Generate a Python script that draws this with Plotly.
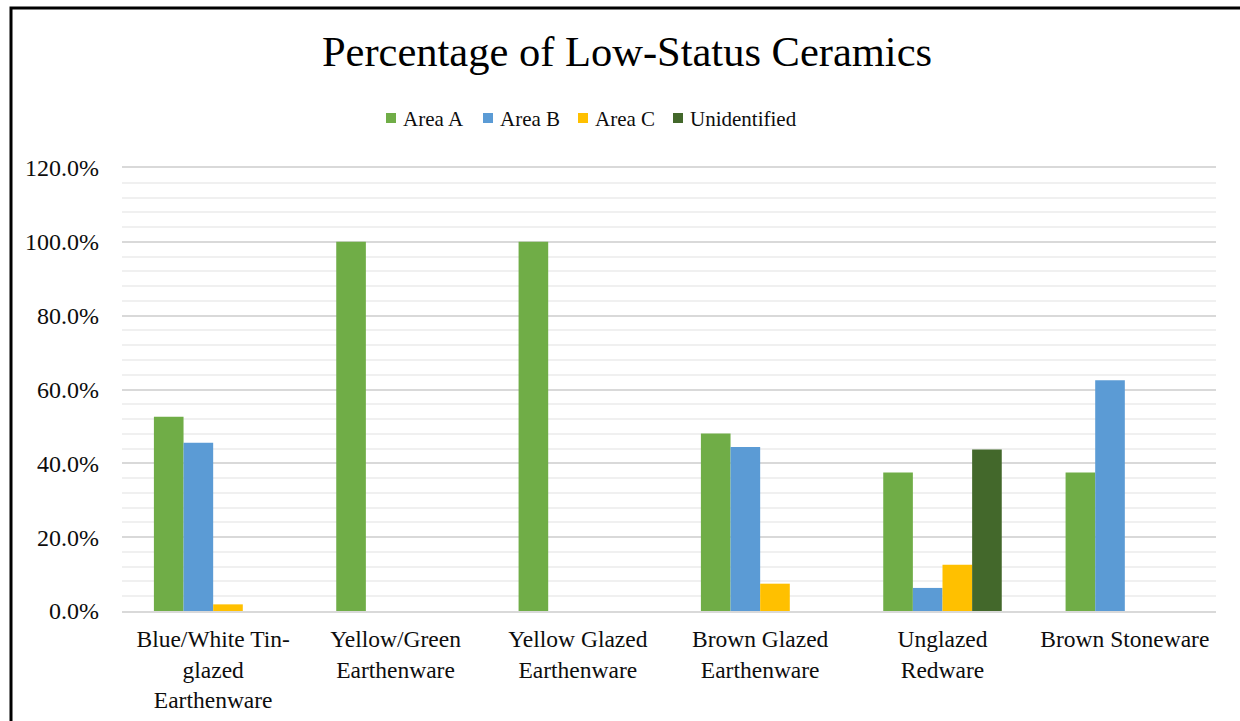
import plotly.graph_objects as go

categories = [
    "Blue/White Tin-<br>glazed<br>Earthenware",
    "Yellow/Green<br>Earthenware",
    "Yellow Glazed<br>Earthenware",
    "Brown Glazed<br>Earthenware",
    "Unglazed<br>Redware",
    "Brown Stoneware",
]
area_a = [0.526, 1.0, 1.0, 0.481, 0.375, 0.375]
area_b = [0.456, 0.0, 0.0, 0.444, 0.0625, 0.625]
area_c = [0.018, 0.0, 0.0, 0.074, 0.125, 0.0]
unidentified = [0.0, 0.0, 0.0, 0.0, 0.4375, 0.0]

series_names = ["Area A", "Area B", "Area C", "Unidentified"]
series_values = [area_a, area_b, area_c, unidentified]
series_colors = ["#70AD47", "#5B9BD5", "#FFC000", "#43682B"]

font_family = "Liberation Serif, Times New Roman, serif"
W, H = 1240, 721
L, R, T, B = 122, 24, 168, 110
PW, PH = W - L - R, H - T - B


def px_x(px):
    return (px - L) / PW


def px_y(py):
    return (H - B - py) / PH


fig = go.Figure()
for name, vals, color in zip(series_names, series_values, series_colors):
    fig.add_trace(go.Bar(
        x=categories, y=vals, name=name,
        marker=dict(color=color, line=dict(width=0)),
        showlegend=False,
    ))

fig.update_layout(
    width=W, height=H,
    paper_bgcolor="white", plot_bgcolor="white",
    barmode="group", bargap=0.35, bargroupgap=0,
    margin=dict(l=L, r=R, t=T, b=B, autoexpand=False),
    font=dict(family=font_family, size=23, color="#0d0d0d"),
    title=dict(
        text="Percentage of Low-Status Ceramics",
        x=627 / W, xref="container", xanchor="center",
        y=1 - 51 / H, yref="container", yanchor="middle",
        font=dict(family=font_family, size=42.5, color="#000000"),
    ),
)

fig.update_yaxes(
    range=[0, 1.2], tickvals=[0, 0.2, 0.4, 0.6, 0.8, 1.0, 1.2],
    tickformat=".1%", automargin=False,
    showgrid=True, gridcolor="#d9d9d9", gridwidth=1.5,
    minor=dict(dtick=0.04, showgrid=True, gridcolor="#f0f0f0", gridwidth=1.5),
    zeroline=False, showline=False, ticks="",
    ticklabelstandoff=22,
    tickfont=dict(family=font_family, size=24, color="#0d0d0d"),
)
fig.update_xaxes(
    showline=True, mirror=True, linecolor="#d9d9d9", linewidth=1.5,
    ticks="", showgrid=False, ticklabelstandoff=6, automargin=False,
    tickfont=dict(family=font_family, size=23.5, color="#0d0d0d"),
)

# Legend drawn as swatches and labels above the plot
legend_swatch_x = [386, 483, 578, 673]
legend_y = 118
for name, color, sx in zip(series_names, series_colors, legend_swatch_x):
    fig.add_shape(
        type="rect", xref="paper", yref="paper",
        x0=px_x(sx), x1=px_x(sx + 10),
        y0=px_y(legend_y + 5), y1=px_y(legend_y - 5),
        line=dict(width=0), fillcolor=color,
    )
    fig.add_annotation(
        text=name, xref="paper", yref="paper",
        x=px_x(sx + 15), y=px_y(legend_y + 1),
        xanchor="left", yanchor="middle", showarrow=False,
        font=dict(family=font_family, size=21, color="#0d0d0d"),
    )

# Outer chart frame
fig.add_shape(
    type="rect", xref="paper", yref="paper",
    x0=px_x(11), x1=px_x(W + 20), y0=px_y(H + 20), y1=px_y(8),
    line=dict(color="black", width=3), fillcolor="rgba(0,0,0,0)",
    layer="above",
)

fig.write_html("out.html")
